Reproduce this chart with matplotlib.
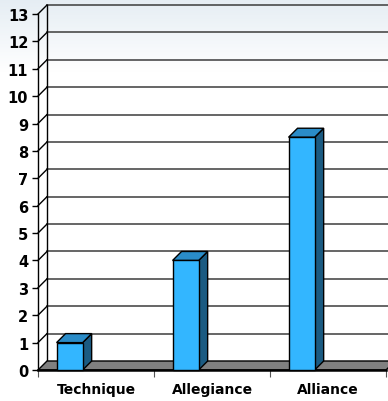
import numpy as np
import matplotlib
matplotlib.use("Agg")
import matplotlib.pyplot as plt
from matplotlib.patches import Polygon, Rectangle

# Chart data
categories = ["Technique", "Allegiance", "Alliance"]
values = [1, 4, 8.5]
y_ticks = list(range(0, 14))

# Colours
bar_front = "#33b6ff"
bar_top = "#2a8cc8"
bar_side = "#1b5b82"
grid_col = "#3c3c3c"
floor_col = "#808080"

plt.rcParams['font.family'] = ['DejaVu Sans']

fig = plt.figure(figsize=(3.88, 4.02), dpi=100)

# background gradient (light blue-grey at top, white below)
bg = fig.add_axes([0, 0, 1, 1], zorder=0)
top_rgb = np.array([0.90, 0.93, 0.955])
mix = np.clip(np.linspace(0, 1, 200) / 0.18, 0, 1)[:, None]
img = (top_rgb + (1 - top_rgb) * mix).reshape(200, 1, 3)
bg.imshow(img, aspect="auto", extent=[0, 1, 0, 1])
bg.axis("off")

# front plane: x 38..386 px, y 371..15 px
ax = fig.add_axes([38 / 388, 31 / 402, 348 / 388, 356 / 402], zorder=1)
ax.set_xlim(0, 3)
ax.set_ylim(0, 13)
ax.patch.set_visible(False)

# depth offset in data units (about 9 px right, 9 px up)
DX = 3 * 9 / 348
DY = 13 * 9 / 356

# back wall gridlines with diagonals on the left wall
for v in y_ticks[1:]:
    ax.plot([DX, 3 + 2 * DX], [v + DY, v + DY], color=grid_col, lw=1.1, clip_on=False, zorder=2)
    ax.plot([0, DX], [v, v + DY], color="black", lw=1.0, clip_on=False, zorder=2)
ax.plot([DX, DX], [DY, 13 + DY], color="black", lw=1.0, clip_on=False, zorder=2)

# floor
floor = Polygon([(0, 0), (3, 0), (3 + DX, DY), (DX, DY)], closed=True,
                facecolor=floor_col, edgecolor="black", lw=1.0, clip_on=False, zorder=3)
ax.add_patch(floor)
ax.plot([0, 3], [0, 0], color="black", lw=1.8, clip_on=False, zorder=4)

# bars with 3D faces
bw = 0.225
for i, v in enumerate(values):
    x0 = i + 0.16
    ax.add_patch(Polygon([(x0 + bw, 0), (x0 + bw + DX, DY), (x0 + bw + DX, v + DY), (x0 + bw, v)],
                         closed=True, facecolor=bar_side, edgecolor="black", lw=1.0, zorder=5, clip_on=False))
    ax.add_patch(Polygon([(x0, v), (x0 + bw, v), (x0 + bw + DX, v + DY), (x0 + DX, v + DY)],
                         closed=True, facecolor=bar_top, edgecolor="black", lw=1.0, zorder=5, clip_on=False))
    ax.add_patch(Rectangle((x0, 0), bw, v, facecolor=bar_front, edgecolor="black", lw=1.0, zorder=6,
                           clip_on=False))

# axes styling
for s in ["top", "right", "bottom"]:
    ax.spines[s].set_visible(False)
ax.spines["left"].set_color("black")
ax.spines["left"].set_linewidth(1.0)
ax.set_yticks(y_ticks)
ax.set_yticklabels([str(t) for t in y_ticks], fontsize=10.5, fontweight="bold")
ax.tick_params(axis="y", length=4, width=1, pad=3)

ax.set_xticks([0, 1, 2, 3], minor=True)
ax.set_xticks([0.5, 1.5, 2.5])
ax.set_xticklabels(categories, fontsize=10, fontweight="bold")
ax.tick_params(axis="x", which="major", length=0, pad=9)
ax.tick_params(axis="x", which="minor", length=5, width=0.8, color="#555555")

fig.savefig("out.png", dpi=100)
